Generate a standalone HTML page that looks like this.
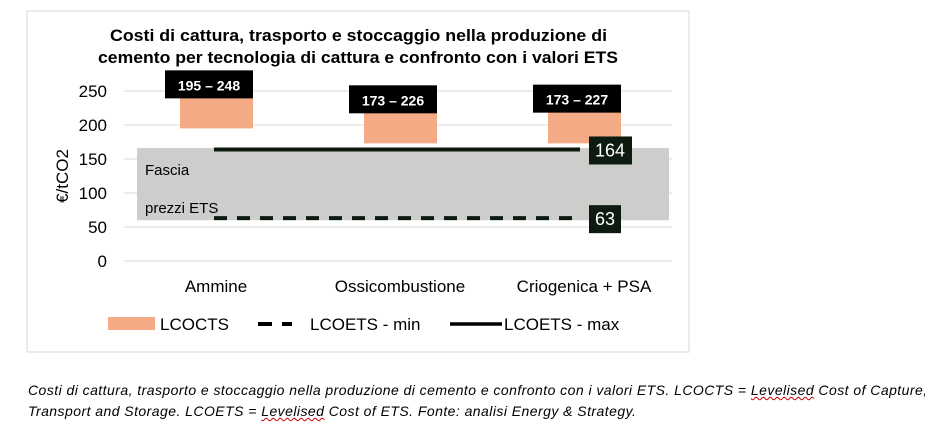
<!DOCTYPE html>
<html><head><meta charset="utf-8"><style>
body{margin:0;background:#fff;width:925px;height:429px;overflow:hidden;font-family:"Liberation Sans",sans-serif}
svg text{font-family:"Liberation Sans",sans-serif}
.cap{position:absolute;left:28px;top:380px;font-style:italic;font-size:14px;letter-spacing:0.45px;line-height:21px;color:#000;width:900px;white-space:nowrap}
.sq{text-decoration:underline wavy #c00;text-decoration-thickness:1px}
</style></head><body>
<svg width="925" height="429" style="position:absolute;left:0;top:0">
<rect x="27" y="11" width="662" height="341" fill="#fff" stroke="#d9d9d9"/>
<text x="110" y="41" textLength="497" lengthAdjust="spacingAndGlyphs" font-size="16.5" font-weight="bold">Costi di cattura, trasporto e stoccaggio nella produzione di</text>
<text x="98" y="63" textLength="520" lengthAdjust="spacingAndGlyphs" font-size="16.5" font-weight="bold">cemento per tecnologia di cattura e confronto con i valori ETS</text>
<g id="grid"></g><g id="band"></g><g id="bars"></g><g id="lines"></g>
<text transform="translate(68,176) rotate(-90)" text-anchor="middle" font-size="17">€/tCO2</text>
<rect x="108" y="317" width="47" height="13" fill="#f4aa85"/>
<text x="160" y="330" font-size="17">LCOCTS</text>
<line x1="258" y1="324" x2="292" y2="324" stroke="#000" stroke-width="4" stroke-dasharray="14,10"/>
<text x="310" y="330" font-size="17">LCOETS - min</text>
<line x1="450" y1="324" x2="502" y2="324" stroke="#000" stroke-width="3.5"/>
<text x="504" y="330" font-size="17">LCOETS - max</text>
</svg>
<div class="cap">Costi di cattura, trasporto e stoccaggio nella produzione di cemento e confronto con i valori ETS. LCOCTS = <span class="sq">Levelised</span> Cost of Capture,<br>Transport and Storage. LCOETS = <span class="sq">Levelised</span> Cost of ETS. Fonte: analisi Energy &amp; Strategy.</div>
<script>
const categories=["Ammine","Ossicombustione","Criogenica + PSA"];
const lowVals=[195,173,173];
const highVals=[248,226,227];
const rangeLabels=["195 – 248","173 – 226","173 – 227"];
const ticks=[0,50,100,150,200,250];
const etsMin=63, etsMax=164;
const bandLow=60, bandHigh=166;
const NS="http://www.w3.org/2000/svg";
const y=v=>261-v*0.68;
const cx=i=>216+i*184;
function mk(p,tag,a,txt){const e=document.createElementNS(NS,tag);for(const k in a)e.setAttribute(k,a[k]);if(txt!=null)e.textContent=txt;document.getElementById(p).appendChild(e);return e;}
ticks.forEach(t=>{
 let l=mk('grid','line',{x1:124,x2:672,y1:y(t),y2:y(t),stroke:'#d9d9d9'});
 
 
 let tx=mk('grid','text',{x:107,y:y(t)+6,'text-anchor':'end','font-size':17,fill:'#000'},t);
 
 
});
let b=mk('band','rect',{x:137,y:y(bandHigh),width:532,height:y(bandLow)-y(bandHigh),fill:'#cdcdcb'});


let f1=mk('band','text',{x:145,y:175,'font-size':15},'Fascia');


let f2=mk('band','text',{x:145,y:213,'font-size':15},'prezzi ETS');


categories.forEach((c,i)=>{
 let r=mk('bars','rect',{x:cx(i)-36,y:y(highVals[i]),width:73,height:y(lowVals[i])-y(highVals[i]),fill:'#f4aa85'});
 
 
 let by=y(highVals[i])-22;
 let lb=mk('bars','rect',{x:cx(i)-51,y:by,width:88,height:28,fill:'#000'});
 
 
 let lt=mk('bars','text',{x:cx(i)-7,y:by+20,'text-anchor':'middle','font-size':14,'font-weight':'bold',fill:'#fff'},rangeLabels[i]);
 
 
 let ct=mk('bars','text',{x:cx(i),y:292,'text-anchor':'middle','font-size':17},c);
 
 
});
let lmax=mk('lines','line',{x1:214,x2:580,y1:y(etsMax),y2:y(etsMax),stroke:'#0d1a10','stroke-width':4});


let lmin=mk('lines','line',{x1:214,x2:580,y1:y(etsMin),y2:y(etsMin),stroke:'#0d1a10','stroke-width':4,'stroke-dasharray':'13,10'});


let bx1=mk('lines','rect',{x:589,y:y(etsMax)-13,width:43,height:28,fill:'#0d1a10'});


let t1=mk('lines','text',{x:610,y:y(etsMax)+7,'text-anchor':'middle','font-size':18,fill:'#fff'},etsMax);


let bx2=mk('lines','rect',{x:589,y:y(etsMin)-13,width:32,height:28,fill:'#0d1a10'});


let t2=mk('lines','text',{x:605,y:y(etsMin)+7,'text-anchor':'middle','font-size':18,fill:'#fff'},etsMin);


</script>
</body></html>
